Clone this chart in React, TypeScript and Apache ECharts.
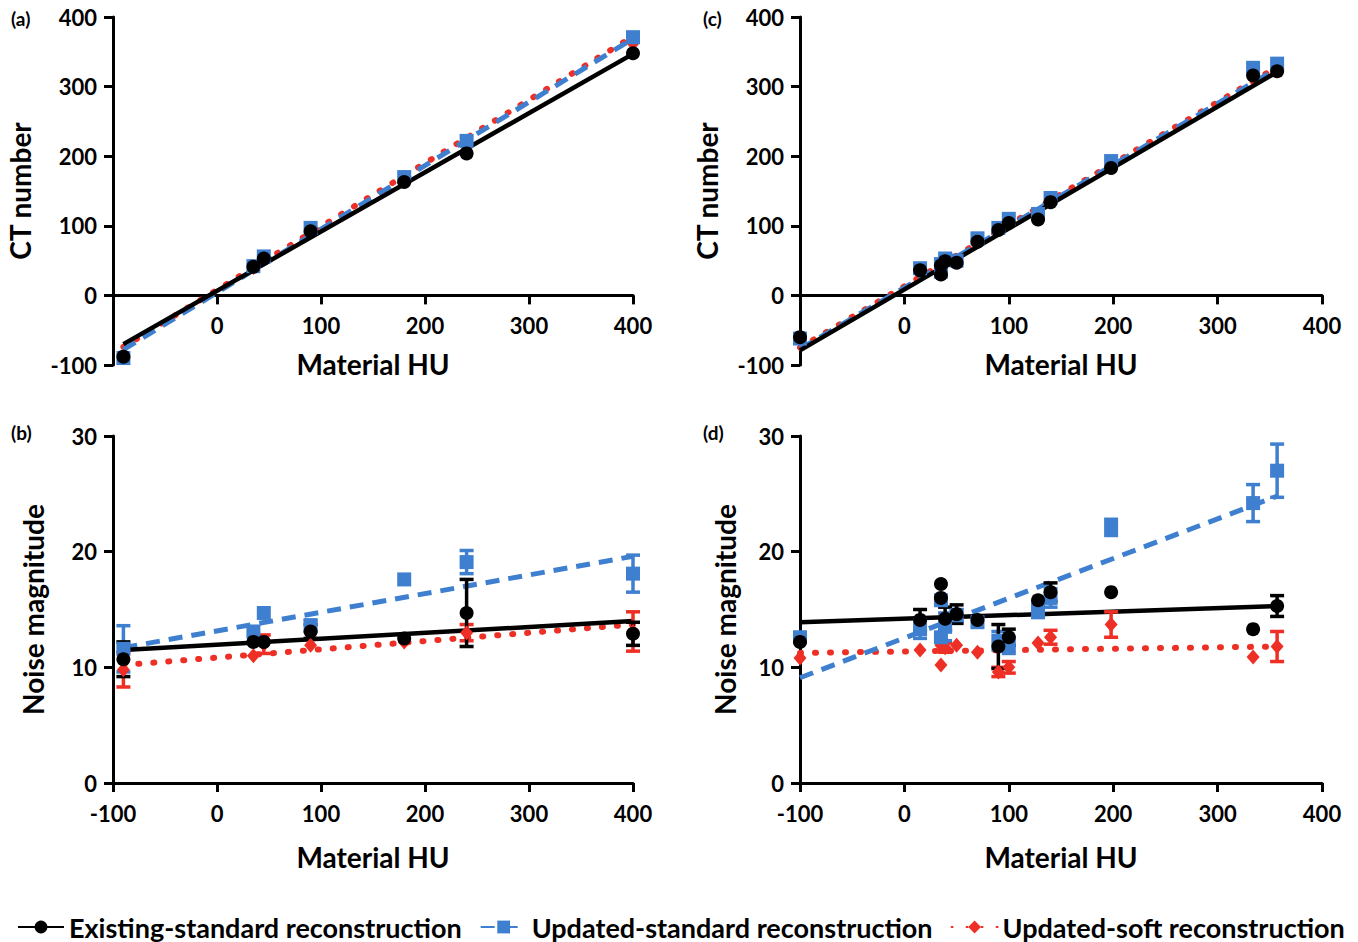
import React, { useEffect, useRef } from "react";
import * as echarts from "echarts";

// ---------- shared ----------
const NAMES = [
  "Existing-standard reconstruction",
  "Updated-standard reconstruction",
  "Updated-soft reconstruction",
];
const COLORS = ["#000000", "#3f7fcf", "#ee2f25"];
const SYMBOLS = ["circle", "rect", "diamond"];
const PANEL_LABELS = ["(a)", "(b)", "(c)", "(d)"];
const X_TICKS_MIN = -100;
const X_TICKS_MAX = 400;

// ---------- panel (a): CT number, first scanner ----------
const aX = [-90, 35, 45, 90, 180, 240, 400];
const aExisting = [-88, 41, 53, 92, 163, 204, 348];
const aUpdStd = [-90, 42, 56, 97, 170, 222, 371];
const aUpdSoft = [-89, 40, 54, 95, 167, 215, 362];
const aFitX = [-90, 400];
const aFitExisting = [-70, 347];
const aFitUpdStd = [-78, 369];
const aFitUpdSoft = [-74, 372];

// ---------- panel (b): noise, first scanner ----------
const bExisting = [10.7, 12.2, 12.2, 13.1, 12.5, 14.7, 12.9];
const bExistingErr = [1.5, 0, 0, 0.6, 0, 2.9, 1.0];
const bUpdStd = [11.6, 13.1, 14.7, 13.6, 17.6, 19.1, 18.1];
const bUpdStdErr = [2.0, 0, 0, 0.5, 0, 1.0, 1.6];
const bUpdSoft = [9.8, 11.0, 12.0, 11.9, 12.2, 13.0, 13.1];
const bUpdSoftErr = [1.5, 0, 0.8, 0, 0, 0.7, 1.7];
const bFitExisting = [11.5, 14.0];
const bFitUpdStd = [11.7, 19.6];
const bFitUpdSoft = [10.2, 13.7];

// ---------- panel (c): CT number, second scanner ----------
const cdX = [-100, 15, 35, 35, 39, 50, 70, 90, 100, 128, 140, 198, 334, 357];
const cExisting = [-60, 36, 30, 43, 49, 47, 77, 94, 104, 109, 134, 183, 316, 322];
const cUpdStd = [-62, 39, 34, 45, 53, 50, 82, 97, 110, 117, 140, 193, 327, 333];
const cUpdSoft = [-61, 38, 33, 44, 51, 49, 80, 96, 107, 114, 138, 189, 321, 328];
const cdFitX = [-100, 357];
const cFitExisting = [-79, 321];
const cFitUpdStd = [-77, 326];
const cFitUpdSoft = [-75, 328];

// ---------- panel (d): noise, second scanner ----------
const dExisting = [12.2, 14.1, 17.2, 16.0, 14.2, 14.6, 14.1, 11.8, 12.6, 15.8, 16.5, 16.5, 13.3, 15.3];
const dExistingErr = [0, 0.9, 0, 0, 1.0, 0.8, 0, 1.9, 0.7, 0, 0.8, 0, 0, 0.9];
const dUpdStd = [12.6, 13.3, 15.8, 12.6, 13.5, 14.5, 13.9, 12.3, 11.9, 14.9, 16.0, 22.1, 24.2, 27.0];
const dUpdStdErr = [0, 0.8, 0, 0, 1.2, 0.5, 0, 0.8, 0.7, 0.6, 0.8, 0.7, 1.6, 2.3];
const dUpdSoft = [10.8, 11.5, 10.2, 11.9, 11.7, 11.9, 11.3, 9.6, 10.0, 12.1, 12.6, 13.7, 10.9, 11.8];
const dUpdSoftErr = [0, 0, 0, 0.5, 0.4, 0, 0, 0.4, 0.5, 0, 0.6, 1.1, 0, 1.3];
const dFitExisting = [13.9, 15.3];
const dFitUpdStd = [9.1, 24.8];
const dFitUpdSoft = [11.25, 11.8];

const FONT = "Lato, 'Open Sans', sans-serif";

const LINE_STYLES: any[] = [
  { color: COLORS[0], width: 4.5, type: "solid" },
  { color: COLORS[1], width: 5, type: [14, 9] },
  { color: COLORS[2], width: 6, type: [1, 14], cap: "round" },
];
const SYMBOL_SIZES = [14, 14, 15];

function errorBarSeries(idx: number, g: number, x: number[], y: number[], err: number[]) {
  const data = x
    .map((xv, i) => [xv, y[i], err[i]])
    .filter((d) => d[2] > 0);
  const color = COLORS[idx];
  return {
    type: "custom",
    name: NAMES[idx],
    xAxisIndex: g,
    yAxisIndex: g,
    encode: { x: 0, y: 1 },
    data,
    silent: true,
    renderItem: (params: any, api: any) => {
      const xv = api.value(0);
      const yv = api.value(1);
      const e = api.value(2);
      const top = api.coord([xv, yv + e]);
      const bot = api.coord([xv, yv - e]);
      const w = 7;
      const st = { stroke: color, lineWidth: 3.5 };
      return {
        type: "group",
        children: [
          { type: "line", shape: { x1: top[0], y1: top[1], x2: bot[0], y2: bot[1] }, style: st },
          { type: "line", shape: { x1: top[0] - w, y1: top[1], x2: top[0] + w, y2: top[1] }, style: st },
          { type: "line", shape: { x1: bot[0] - w, y1: bot[1], x2: bot[0] + w, y2: bot[1] }, style: st },
        ],
      };
    },
  };
}

function panelSeries(
  g: number,
  x: number[],
  ys: number[][],
  errs: number[][] | null,
  fitX: number[],
  fits: number[][]
) {
  const out: any[] = [];
  [0, 1, 2].forEach((i) => {
    out.push({
      type: "line",
      name: NAMES[i],
      xAxisIndex: g,
      yAxisIndex: g,
      data: fitX.map((xv, k) => [xv, fits[i][k]]),
      symbol: SYMBOLS[i],
      symbolSize: SYMBOL_SIZES[i],
      showSymbol: false,
      lineStyle: LINE_STYLES[i],
      itemStyle: { color: COLORS[i] },
      z: 2 + (2 - i),
      silent: true,
    });
  });
  if (errs) {
    [0, 1, 2].forEach((i) => {
      const s: any = errorBarSeries(i, g, x, ys[i], errs[i]);
      s.z = 5 + (2 - i);
      out.push(s);
    });
  }
  [0, 1, 2].forEach((i) => {
    out.push({
      type: "scatter",
      name: NAMES[i],
      xAxisIndex: g,
      yAxisIndex: g,
      data: x.map((xv, k) => [xv, ys[i][k]]),
      symbol: SYMBOLS[i],
      symbolSize: i === 2 ? [13, 15] : SYMBOL_SIZES[i],
      itemStyle: { color: COLORS[i], opacity: 1 },
      z: 8 + (2 - i),
      silent: true,
    });
  });
  return out;
}

const GRIDS = [
  { left: 113, top: 17, width: 520, height: 348 },
  { left: 113, top: 436, width: 520, height: 347 },
  { left: 800, top: 17, width: 522, height: 348 },
  { left: 800, top: 436, width: 522, height: 347 },
];

export default function App() {
  const ref = useRef<HTMLDivElement>(null);

  useEffect(() => {
    if (!ref.current) return;
    const chart = echarts.init(ref.current, undefined, { renderer: "svg" });

    const axisLine = { color: "#000", width: 3 };
    const labelStyle = {
      color: "#000",
      fontFamily: FONT,
      fontWeight: "bold" as const,
      fontSize: 22,
    };
    const nameStyle = {
      color: "#000",
      fontFamily: FONT,
      fontWeight: "bold" as const,
      fontSize: 28,
    };

    const xAxes = GRIDS.map((grid, g) => {
      const ct = g === 0 || g === 2;
      // CT panels: x axis sits on y = 0 (one fifth of the -100..400 range above the bottom)
      const off = ct ? -(grid.height * 100) / 500 : 0;
      return {
        type: "value",
        gridIndex: g,
        position: "bottom",
        offset: off,
        min: X_TICKS_MIN,
        max: X_TICKS_MAX,
        interval: 100,
        axisLine: { show: true, onZero: false, lineStyle: axisLine },
        axisTick: { show: true, length: 9, lineStyle: { color: "#000", width: 3 } },
        axisLabel: {
          ...labelStyle,
          margin: 19,
          formatter: (v: number) => (ct && v === -100 ? "" : String(v)),
        },
        splitLine: { show: false },
        name: "Material HU",
        nameLocation: "middle",
        nameGap: ct ? 55 : 60,
        nameTextStyle: nameStyle,
      };
    });

    const yAxes = GRIDS.map((_, g) => {
      const ct = g === 0 || g === 2;
      return {
        type: "value",
        gridIndex: g,
        min: ct ? -100 : 0,
        max: ct ? 400 : 30,
        interval: ct ? 100 : 10,
        axisLine: { show: true, onZero: false, lineStyle: axisLine },
        axisTick: { show: true, length: 9, lineStyle: { color: "#000", width: 3 } },
        axisLabel: { ...labelStyle, margin: 16 },
        splitLine: { show: false },
        name: ct ? "CT number" : "Noise magnitude",
        nameLocation: "middle",
        nameGap: ct ? 79 : g === 1 ? 66 : 61,
        nameTextStyle: nameStyle,
      };
    });

    const series = [
      ...panelSeries(0, aX, [aExisting, aUpdStd, aUpdSoft], null, aFitX, [aFitExisting, aFitUpdStd, aFitUpdSoft]),
      ...panelSeries(
        1,
        aX,
        [bExisting, bUpdStd, bUpdSoft],
        [bExistingErr, bUpdStdErr, bUpdSoftErr],
        aFitX,
        [bFitExisting, bFitUpdStd, bFitUpdSoft]
      ),
      ...panelSeries(2, cdX, [cExisting, cUpdStd, cUpdSoft], null, cdFitX, [cFitExisting, cFitUpdStd, cFitUpdSoft]),
      ...panelSeries(
        3,
        cdX,
        [dExisting, dUpdStd, dUpdSoft],
        [dExistingErr, dUpdStdErr, dUpdSoftErr],
        cdFitX,
        [dFitExisting, dFitUpdStd, dFitUpdSoft]
      ),
    ];

    const labelPos = [
      [11, 9],
      [11, 423],
      [703, 9],
      [703, 423],
    ];

    chart.setOption({
      animation: false,
      backgroundColor: "#ffffff",
      grid: GRIDS.map((g) => ({ ...g, containLabel: false })),
      xAxis: xAxes,
      yAxis: yAxes,
      legend: {
        data: NAMES,
        left: 12,
        top: 912,
        padding: [0, 5, 0, 5],
        itemWidth: 46,
        itemHeight: 16,
        itemGap: 18,
        textStyle: {
          color: "#000",
          fontFamily: FONT,
          fontWeight: "bold",
          fontSize: 27,
          lineHeight: 30,
        },
        selectedMode: false,
      },
      graphic: PANEL_LABELS.map((t, i) => ({
        type: "text",
        left: labelPos[i][0],
        top: labelPos[i][1],
        style: {
          text: t,
          fill: "#000",
          font: `bold 19px ${FONT}`,
        },
      })),
      series,
    });

    return () => chart.dispose();
  }, []);

  return (
    <div
      ref={ref}
      style={{ position: "absolute", left: 0, top: 0, width: 1358, height: 942, background: "#fff" }}
    />
  );
}
